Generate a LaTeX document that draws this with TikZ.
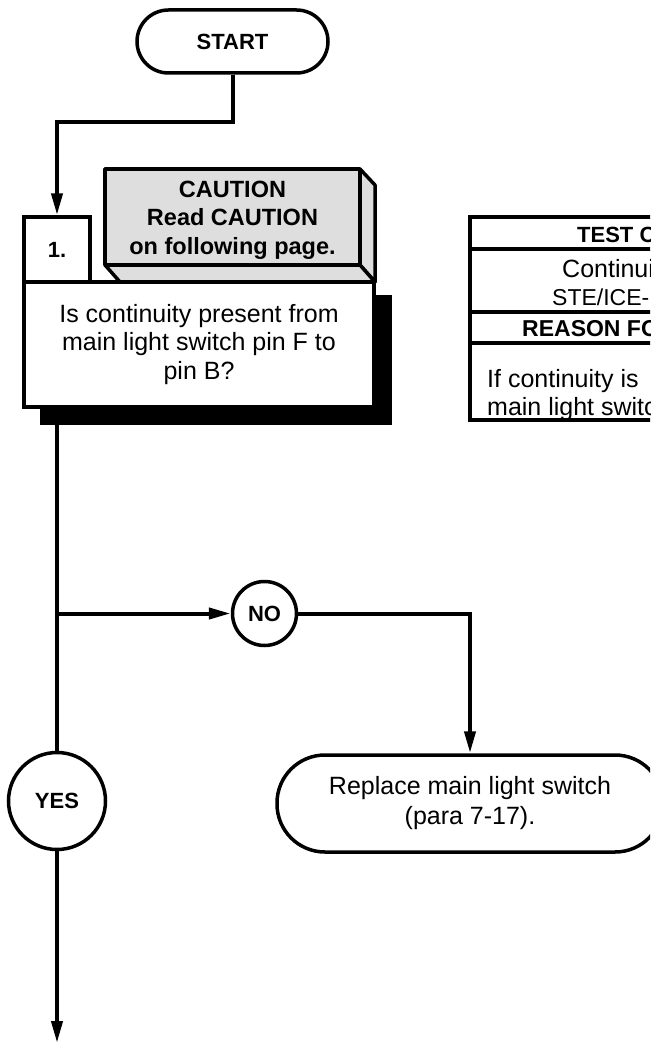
\documentclass[tikz,border=0pt]{standalone}
\usepackage{fontspec}
\setmainfont{Liberation Sans}
\usetikzlibrary{arrows.meta,shapes.geometric}
\definecolor{cgray}{RGB}{222,222,222}
\begin{document}
\begin{tikzpicture}[x=1pt,y=-1pt,
  conn/.style={line width=4pt},
  arr/.style={-{Triangle[length=22pt,width=11pt]}},
  outline/.style={draw, line width=3.5pt},
  txt/.style={font=\fontsize{25}{28.5}\selectfont, align=center},
  btxt/.style={font=\fontsize{22}{28.5}\selectfont\bfseries, align=center},
  ctxt/.style={font=\fontsize{23.5}{28.5}\selectfont\bfseries, align=center},
  tabtxt/.style={font=\fontsize{25}{28}\selectfont, anchor=base west, inner sep=0pt},
  tabbtxt/.style={font=\fontsize{23}{28}\selectfont\bfseries, anchor=base west, inner sep=0pt},
  face/.style={fill=cgray, draw, line width=3.5pt, line join=round},
]
\useasboundingbox (0,0) rectangle (650,1043);
\clip (0,0) rectangle (650,1043);

% START
\node[outline, rounded corners=31.5pt, minimum width=191, minimum height=63, inner sep=0pt, btxt] (start) at (232.5,41.5) {START};

% caution 3D box
\filldraw[face] (105,169) rectangle (360,265);
\filldraw[face] (360,169) -- (375,185) -- (375,282) -- (360,265) -- cycle;
\filldraw[face] (105,265) -- (360,265) -- (375,282) -- (120,282) -- cycle;
\node[ctxt] (caution) at (232.5,220) {CAUTION\\Read CAUTION\\on following page.};

% question box with shadow
\fill (40,295) rectangle (392,425);
\node[outline, fill=white, minimum width=350, minimum height=125, inner sep=0pt, txt] (q) at (199,344.5) {Is continuity present from\\main light switch pin F to\\pin B?};
\node[outline, fill=white, minimum width=66, minimum height=65, inner sep=0pt, btxt] (num) at (57,249.5) {1.};

% decision circles and result
\node[outline, circle, minimum size=64, inner sep=0pt, btxt] (no) at (264.5,613.5) {NO};
\node[outline, circle, minimum size=97, inner sep=0pt, btxt] (yes) at (57,801) {YES};
\node[outline, rounded corners=48pt, minimum width=386, minimum height=97, inner sep=0pt, font=\fontsize{25}{30}\selectfont, align=center] (rep) at (470,803.5) {Replace main light switch\\(para 7-17).};

% connectors
\coordinate (j1) at (57,122);
\coordinate (qout) at (57,425);
\coordinate (br) at (57,613.5);
\coordinate (endp) at (57,1043);
\draw[conn,arr] (start.south) |- (j1) -- (num.north);
\draw[conn] (qout) -- (yes.north);
\draw[conn,arr] (br) -- (no.west);
\draw[conn,arr] (no.east) -| (rep.north);
\draw[conn,arr] (yes.south) -- (endp);

% test table (cut at right edge)
\draw[line width=4pt] (470,217) rectangle (720,420);
\draw[line width=4pt] (470,249) -- (720,249);
\draw[line width=4pt] (470,312) -- (720,312);
\draw[line width=4pt] (470,343) -- (720,343);
\node[tabbtxt, font=\fontsize{22}{28}\selectfont\bfseries] (t1) at (577,242.5) {TEST C};
\node[tabtxt] (t2) at (562,277) {Continui};
\node[tabtxt, font=\fontsize{23}{28}\selectfont] (t3) at (552,305) {STE/ICE-I};
\node[tabbtxt] (t4) at (522,336.5) {REASON FO};
\node[tabtxt] (t5) at (487,387) {If continuity is};
\node[tabtxt] (t6) at (487,415) {main light switc};
\end{tikzpicture}
\end{document}
